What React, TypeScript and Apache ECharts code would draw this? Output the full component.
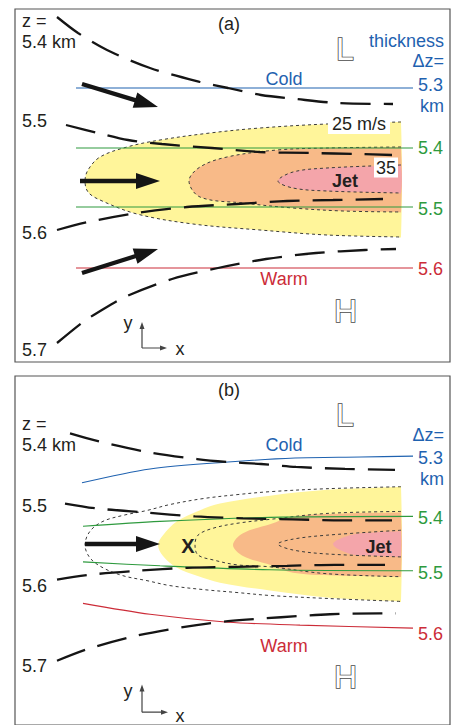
import React, { useEffect, useRef } from "react";
import * as echarts from "echarts";

const FONT = '"Liberation Sans", Arial, Helvetica, sans-serif';
const INK = "#231f20";
const BLUE = "#1f62b0";
const GREEN = "#2e9a3e";
const RED = "#cc2c38";
const YELLOW = "#fff59a";
const ORANGE = "#f8ba88";
const PINK = "#f4a5aa";

// ---------- Panel (a) : heights (dashed), thickness (colored) ----------
const aContour54 = [[42, 345], [63, 329], [92, 312], [135, 294], [185, 280], [213, 274], [246, 267], [281, 263], [323, 259], [378, 258]];
const aContour55 = [[51, 237], [83, 229], [113, 222], [147, 218], [197, 214], [245, 210], [295, 209], [343, 208], [377, 207]];
const aContour56 = [[42, 132], [73, 140], [122, 149], [172, 155], [222, 158], [272, 161], [318, 162], [368, 163]];
const aContour57 = [[42, 19], [68, 40], [82, 49], [110, 65], [157, 83], [203, 94], [251, 103], [301, 109], [350, 112], [381, 113]];
const aThick53 = [[61, 274], [398, 274]];
const aThick54 = [[61, 214], [398, 214]];
const aThick55 = [[61, 155], [398, 155]];
const aThick56 = [[61, 94], [398, 94]];
const aYellow = [[386, 240], [312, 238], [245, 234], [195, 229], [145, 222], [112, 215], [85, 205], [73, 192], [70, 181], [73, 170], [85, 162], [122, 148], [178, 138], [245, 132], [312, 127], [386, 125]];
const aOrange = [[386, 215], [312, 214], [262, 212], [212, 205], [185, 195], [174, 181], [185, 165], [228, 159], [278, 154], [328, 151], [386, 150]];
const aPink = [[386, 197], [312, 194], [278, 190], [263, 181], [278, 174], [312, 171], [386, 169]];
const aArrows = [[67, 278, 143, 255], [65, 181, 145, 181], [67, 89, 143, 113]];
const aAxes = [[127, 14, 127, 40], [127, 14, 152, 14]];

// ---------- Panel (b) ----------
const bContour54 = [[55, 295], [87, 286], [133, 276], [182, 269], [213, 266], [246, 264], [281, 261], [330, 259], [380, 258]];
const bContour55 = [[50, 224], [82, 219], [130, 215], [180, 211], [228, 209], [278, 208], [328, 207], [377, 207]];
const bContour56 = [[42, 147], [75, 152], [123, 156], [172, 159], [222, 160], [272, 161], [320, 162], [370, 162]];
const bContour57 = [[42, 65], [73, 77], [120, 90], [168, 99], [213, 105], [266, 109], [315, 112], [365, 113], [381, 113]];
const bThick53 = [[67, 245], [135, 259], [213, 266], [280, 270], [346, 271], [398, 272]];
const bThick54 = [[68, 201], [145, 206], [255, 210], [398, 211]];
const bThick55 = [[68, 165], [145, 161], [255, 157], [398, 156]];
const bThick56 = [[68, 123], [135, 112], [213, 104], [285, 101], [398, 98]];
const bOuter = [[386, 241], [312, 239], [255, 236], [222, 233], [188, 229], [155, 223], [132, 217], [108, 212], [88, 206], [75, 196], [70, 182], [75, 169], [88, 159], [108, 151], [132, 146], [155, 141], [188, 137], [222, 134], [255, 131], [312, 128], [386, 125]];
const bYellow = [[386, 241], [312, 238], [255, 232], [205, 224], [182, 216], [162, 206], [148, 192], [143, 182], [148, 171], [162, 159], [182, 151], [205, 144], [255, 136], [312, 129], [386, 125]];
const bMiddle = [[386, 216], [312, 214], [255, 208], [222, 204], [198, 199], [183, 192], [180, 182], [183, 172], [198, 167], [222, 162], [255, 160], [312, 153], [386, 150]];
const bOrange = [[386, 215], [328, 214], [278, 211], [255, 203], [228, 194], [218, 182], [228, 171], [255, 162], [278, 154], [328, 151], [386, 150]];
const bInner = [[386, 197], [312, 192], [278, 188], [263, 183], [278, 177], [312, 173], [386, 170]];
const bPink = [[386, 196], [362, 195], [335, 192], [318, 183], [335, 173], [362, 171], [386, 170]];
const bArrows = [[70, 183, 145, 183]];
const bAxes = [[127, 13, 127, 41], [127, 13, 153, 13]];

const contourLabels = ["z =", "5.4 km", "5.5", "5.6", "5.7"];
const thicknessLabels = ["5.3", "5.4", "5.5", "5.6"];

type Shape = { pts: number[][]; color: string };

function lerp(p: number[], q: number[], t: number) {
  return [p[0] + (q[0] - p[0]) * t, p[1] + (q[1] - p[1]) * t];
}

function shapeSeries(shapes: Shape[], gi: number, kind: "fill" | "outline") {
  return {
    type: "custom",
    xAxisIndex: gi,
    yAxisIndex: gi,
    z: kind === "fill" ? 1 : 3,
    silent: true,
    data: shapes.map((s, i) => [s.pts[0][0], s.pts[0][1], i]),
    renderItem: (_params: any, api: any) => {
      const s = shapes[api.value(2)];
      const pts = s.pts.map((p) => api.coord(p));
      if (kind === "fill") {
        const n = pts.length;
        const poly = [pts[0], lerp(pts[0], pts[1], 0.05), ...pts.slice(1, n - 1), lerp(pts[n - 1], pts[n - 2], 0.05), pts[n - 1]];
        return { type: "polygon", shape: { points: poly, smooth: 0.35 }, style: { fill: s.color } };
      }
      return {
        type: "polyline",
        shape: { points: pts, smooth: 0.35 },
        style: { stroke: "#3a3a3a", lineWidth: 1, lineDash: [3, 3], fill: null },
      };
    },
  };
}

function arrowSeries(arrows: number[][], gi: number, shaft: number, headLen: number, headHalf: number, color: string) {
  return {
    type: "custom",
    xAxisIndex: gi,
    yAxisIndex: gi,
    z: 6,
    silent: true,
    data: arrows,
    renderItem: (_params: any, api: any) => {
      const p1 = api.coord([api.value(0), api.value(1)]);
      const p2 = api.coord([api.value(2), api.value(3)]);
      const dx = p2[0] - p1[0];
      const dy = p2[1] - p1[1];
      const len = Math.hypot(dx, dy);
      const ux = dx / len, uy = dy / len;
      const nx = -uy, ny = ux;
      const bx = p2[0] - ux * headLen, by = p2[1] - uy * headLen;
      const points = [
        [p1[0] + nx * shaft, p1[1] + ny * shaft],
        [bx + nx * shaft, by + ny * shaft],
        [bx + nx * headHalf, by + ny * headHalf],
        p2,
        [bx - nx * headHalf, by - ny * headHalf],
        [bx - nx * shaft, by - ny * shaft],
        [p1[0] - nx * shaft, p1[1] - ny * shaft],
      ];
      return { type: "polygon", shape: { points }, style: { fill: color } };
    },
  };
}

function lineSeries(data: number[][], gi: number, color: string, width: number, type: any, z: number) {
  return {
    type: "line",
    xAxisIndex: gi,
    yAxisIndex: gi,
    data,
    smooth: 0.3,
    symbol: "none",
    silent: true,
    z,
    lineStyle: { color, width, type, cap: "butt" },
  };
}

function txt(x: number, y: number, text: string, o: any = {}) {
  return {
    type: "text",
    x,
    y,
    z: 100,
    silent: true,
    style: {
      text,
      font: `${o.weight || "normal"} ${o.size || 18}px ${FONT}`,
      fill: o.fill || INK,
      stroke: o.stroke,
      lineWidth: o.lineWidth,
      align: o.align || "left",
      verticalAlign: "middle",
      backgroundColor: o.bg,
      padding: o.padding,
    },
  };
}

const hollow = { size: 32, fill: "#ffffff", stroke: "#4a4a4a", lineWidth: 1.6, align: "center" };

function panelTexts(panel: "a" | "b") {
  const els: any[] = [];
  const a = panel === "a";
  els.push(txt(229, a ? 24 : 390, a ? "(a)" : "(b)", { align: "center" }));
  els.push(txt(22, a ? 21 : 423.7, contourLabels[0]));
  els.push(txt(22, a ? 41.7 : 444.7, contourLabels[1]));
  els.push(txt(22, a ? 121 : 506, contourLabels[2]));
  els.push(txt(22, a ? 233 : 585.7, contourLabels[3]));
  els.push(txt(22, a ? 349.5 : 665.7, contourLabels[4]));
  els.push(txt(345, a ? 48.5 : 414.5, "L", hollow));
  els.push(txt(345.5, a ? 310.5 : 677, "H", hollow));
  if (a) els.push(txt(444, 40.7, "thickness", { fill: BLUE, align: "right" }));
  els.push(txt(444, a ? 60.7 : 434.7, "Δz=", { fill: BLUE, align: "right" }));
  els.push(txt(418, a ? 84.7 : 457.7, thicknessLabels[0], { fill: BLUE }));
  els.push(txt(444, a ? 105.7 : 478.7, "km", { fill: BLUE, align: "right" }));
  els.push(txt(418, a ? 147.7 : 517.7, thicknessLabels[1], { fill: GREEN }));
  els.push(txt(418, a ? 208.7 : 572.7, thicknessLabels[2], { fill: GREEN }));
  els.push(txt(418, a ? 268.7 : 633.7, thicknessLabels[3], { fill: RED }));
  els.push(txt(284, a ? 78.7 : 444.7, "Cold", { fill: BLUE, align: "center" }));
  els.push(txt(284, a ? 278.7 : 645.7, "Warm", { fill: RED, align: "center" }));
  els.push(txt(128, a ? 323 : 691, "y", { align: "center" }));
  els.push(txt(180, a ? 349 : 716, "x", { align: "center" }));
  if (a) {
    els.push(txt(359, 124, "25 m/s", { align: "center", bg: "#ffffff", padding: [1, 4, 1, 4] }));
    els.push(txt(386, 167.5, "35", { align: "center", bg: "#ffffff", padding: [1, 2, 1, 2] }));
    els.push(txt(345, 180.7, "Jet", { align: "center", weight: "bold" }));
  } else {
    els.push(txt(188, 546, "X", { align: "center", weight: "bold", size: 20 }));
    els.push(txt(378.5, 546.5, "Jet", { align: "center", weight: "bold" }));
  }
  return els;
}

export default function App() {
  const ref = useRef<HTMLDivElement>(null);
  useEffect(() => {
    if (!ref.current) return;
    const chart = echarts.init(ref.current, undefined, { renderer: "svg" });
    const grids = [
      { left: 15, top: 9, width: 435, height: 353 },
      { left: 15, top: 376, width: 435, height: 353 },
    ].map((g) => ({ ...g, show: true, borderColor: "#555555", borderWidth: 1.2, backgroundColor: "transparent" }));
    const axisBase = { type: "value", show: false, splitLine: { show: false } };
    const dash = [30, 13];
    const series: any[] = [
      // panel a
      shapeSeries([{ pts: aYellow, color: YELLOW }, { pts: aOrange, color: ORANGE }, { pts: aPink, color: PINK }], 0, "fill"),
      shapeSeries([{ pts: aYellow, color: "" }, { pts: aOrange, color: "" }, { pts: aPink, color: "" }], 0, "outline"),
      lineSeries(aThick53, 0, BLUE, 1.1, "solid", 4),
      lineSeries(aThick54, 0, GREEN, 1.1, "solid", 4),
      lineSeries(aThick55, 0, GREEN, 1.1, "solid", 4),
      lineSeries(aThick56, 0, RED, 1.1, "solid", 4),
      lineSeries(aContour54, 0, "#151515", 2.3, dash, 5),
      lineSeries(aContour55, 0, "#151515", 2.3, dash, 5),
      lineSeries(aContour56, 0, "#151515", 2.3, dash, 5),
      lineSeries(aContour57, 0, "#151515", 2.3, dash, 5),
      arrowSeries(aArrows, 0, 2.2, 24, 8, "#151515"),
      arrowSeries(aAxes, 0, 0.6, 7, 2.5, "#444444"),
      // panel b
      shapeSeries([{ pts: bYellow, color: YELLOW }, { pts: bOrange, color: ORANGE }, { pts: bPink, color: PINK }], 1, "fill"),
      shapeSeries([{ pts: bOuter, color: "" }, { pts: bMiddle, color: "" }, { pts: bInner, color: "" }], 1, "outline"),
      lineSeries(bThick53, 1, BLUE, 1.1, "solid", 4),
      lineSeries(bThick54, 1, GREEN, 1.1, "solid", 4),
      lineSeries(bThick55, 1, GREEN, 1.1, "solid", 4),
      lineSeries(bThick56, 1, RED, 1.1, "solid", 4),
      lineSeries(bContour54, 1, "#151515", 2.3, dash, 5),
      lineSeries(bContour55, 1, "#151515", 2.3, dash, 5),
      lineSeries(bContour56, 1, "#151515", 2.3, dash, 5),
      lineSeries(bContour57, 1, "#151515", 2.3, dash, 5),
      arrowSeries(bArrows, 1, 2.2, 24, 8, "#151515"),
      arrowSeries(bAxes, 1, 0.6, 7, 2.5, "#444444"),
    ];
    chart.setOption({
      animation: false,
      backgroundColor: "#ffffff",
      grid: grids,
      xAxis: [0, 1].map((i) => ({ ...axisBase, gridIndex: i, min: 0, max: 435 })),
      yAxis: [0, 1].map((i) => ({ ...axisBase, gridIndex: i, min: 0, max: 353 })),
      graphic: { elements: [...panelTexts("a"), ...panelTexts("b")] },
      series,
    });
    return () => chart.dispose();
  }, []);
  return (
    <div
      ref={ref}
      style={{ position: "fixed", left: 0, top: 0, width: 456, height: 725, background: "#fff" }}
    />
  );
}
